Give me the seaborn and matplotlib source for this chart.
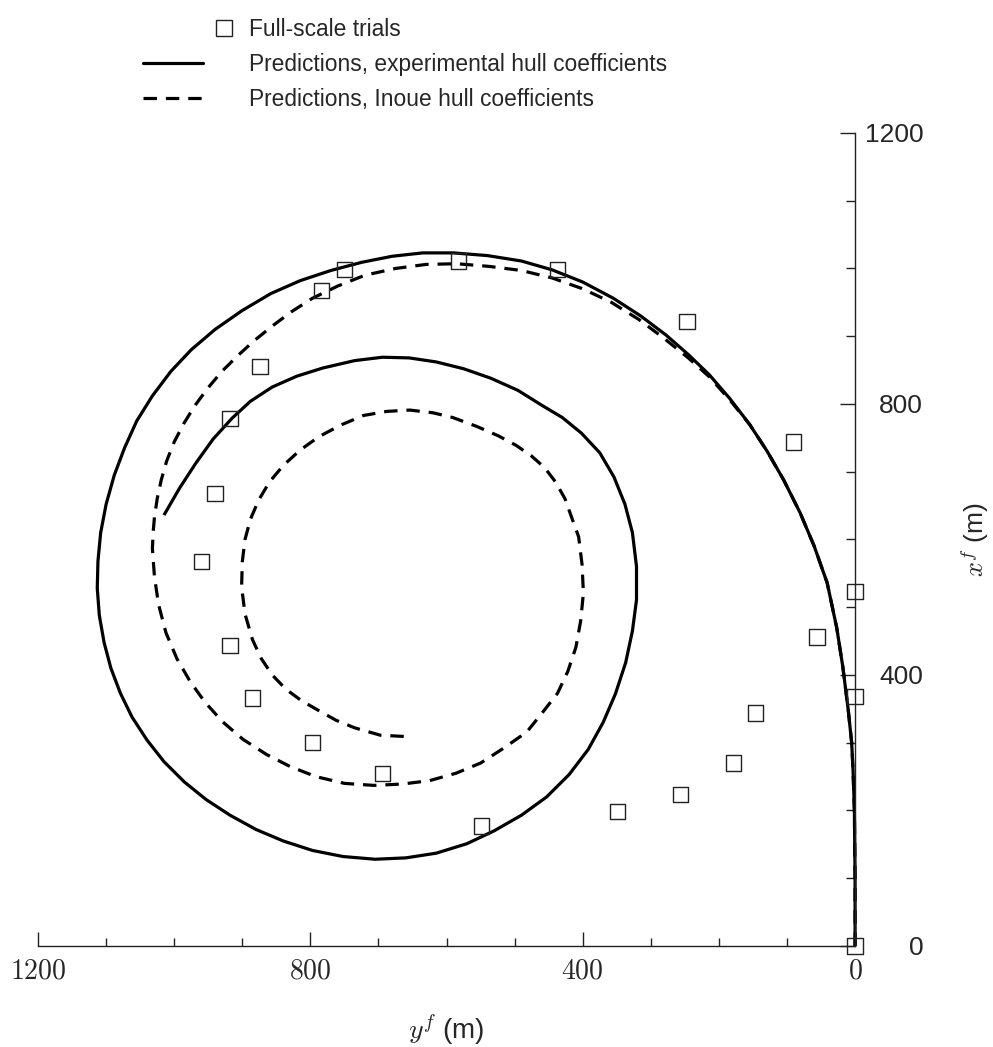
import numpy as np
import pandas as pd
import matplotlib
matplotlib.use("Agg")
import matplotlib.pyplot as plt
import seaborn as sns
from matplotlib.ticker import MultipleLocator, FuncFormatter
from matplotlib.legend_handler import HandlerLine2D
from matplotlib.lines import Line2D

# ---------------- data (yf, xf in metres) ----------------
trial_y = [0, 0, 0, 56, 90, 146, 179, 247, 256, 349, 437, 549, 582, 694, 750,
           784, 797, 874, 885, 918, 918, 940, 960]
trial_x = [0, 368, 523, 456, 744, 344, 270, 922, 223, 199, 999, 177, 1011, 255,
           999, 967, 300, 855, 366, 779, 444, 668, 567]

exp_y = [0, 0, 1, 3, 5, 10, 18, 27, 41, 60, 81, 105, 129, 155, 184, 214, 245,
         278, 315, 355, 400, 445, 490, 540, 590, 635, 680, 725, 770, 815, 858,
         900, 940, 975, 1005, 1032, 1055, 1073, 1088, 1100, 1108, 1112, 1113,
         1110, 1103, 1093, 1079, 1062, 1040, 1015, 985, 953, 918, 880, 840, 797,
         752, 705, 660, 615, 570, 530, 490, 453, 420, 392, 370, 352, 337, 327,
         321, 321, 327, 338, 354, 375, 402, 430, 460, 495, 535, 575, 615, 655,
         694, 735, 782, 820, 856, 888, 915, 943, 968, 992, 1015]
exp_x = [0, 100, 200, 260, 300, 348, 412, 470, 536, 590, 640, 688, 730, 770,
         808, 843, 873, 902, 930, 956, 980, 998, 1011, 1019, 1023, 1023, 1018,
         1009, 997, 982, 963, 938, 910, 880, 848, 812, 775, 735, 695, 652, 610,
         568, 528, 488, 448, 410, 373, 338, 304, 272, 242, 216, 193, 172, 155,
         141, 132, 128, 130, 137, 151, 170, 193, 220, 253, 290, 330, 372, 418,
         465, 511, 560, 610, 652, 692, 728, 757, 780, 798, 820, 838, 852, 862,
         868, 869, 864, 853, 841, 825, 804, 779, 748, 713, 676, 636]

inoue_y = [0, 0, 1, 3, 5, 10, 18, 27, 41, 60, 81, 105, 129, 155, 184, 214, 245,
           282, 318, 358, 400, 445, 490, 537, 585, 630, 675, 720, 760, 797, 828,
           856, 883, 907, 930, 951, 970, 986, 1000, 1011, 1019, 1025, 1029, 1031,
           1032, 1029, 1023, 1012, 996, 977, 955, 929, 899, 865, 830, 792, 750,
           707, 665, 625, 586, 550, 516, 482, 458, 437, 422, 410, 403, 399, 401,
           406, 415, 426, 440, 456, 475, 498, 524, 556, 591, 620, 654, 688, 722,
           755, 787, 815, 840, 860, 876, 888, 896, 900, 901, 896, 885, 872, 856,
           836, 813, 787, 762, 735, 697, 657]
inoue_x = [0, 100, 200, 260, 300, 348, 412, 470, 536, 590, 640, 688, 730, 770,
           806, 840, 868, 898, 925, 950, 970, 986, 997, 1003, 1007, 1006, 1000,
           990, 974, 956, 936, 915, 893, 871, 848, 823, 797, 771, 744, 716, 688,
           660, 633, 610, 586, 545, 504, 462, 424, 391, 360, 331, 305, 283, 265,
           250, 240, 237, 239, 244, 255, 270, 292, 316, 346, 373, 405, 441, 480,
           521, 563, 604, 629, 660, 685, 706, 723, 739, 753, 767, 780, 787, 791,
           789, 783, 769, 752, 732, 709, 685, 658, 630, 600, 567, 530, 490, 452,
           424, 400, 379, 362, 347, 333, 322, 311, 309]

x_ticks = [0, 400, 800, 1200]
y_ticks = [0, 400, 800, 1200]
labels = ["Full-scale trials",
          "Predictions, experimental hull coefficients",
          "Predictions, Inoue hull coefficients"]

# ---------------- style ----------------
sns.set_style("white")
plt.rcParams["font.family"] = ["Liberation Sans", "DejaVu Sans"]
plt.rcParams["mathtext.fontset"] = "cm"

fig = plt.figure(figsize=(9.93, 10.47), dpi=100)
ax = fig.add_axes([0.0383, 0.0965, 0.8228, 0.7765])

lw = 2.3
dash = (0, (4.2, 2.8))
sns.lineplot(x=exp_y, y=exp_x, sort=False, estimator=None, color="black",
             linewidth=lw, ax=ax, clip_on=False, legend=False,
             solid_joinstyle="round", solid_capstyle="butt")
sns.lineplot(x=inoue_y, y=inoue_x, sort=False, estimator=None, color="black",
             linewidth=lw, linestyle=dash, ax=ax, clip_on=False,
             legend=False, dash_joinstyle="round")
sns.scatterplot(x=trial_y, y=trial_x, marker="s", s=120, facecolor="none",
                edgecolor="#222222", linewidth=1.0, ax=ax, clip_on=False,
                legend=False, zorder=5)

ax.set_xlim(1200, 0)
ax.set_ylim(0, 1200)
ax.set_xticks(x_ticks)
ax.set_yticks(y_ticks)
ax.xaxis.set_minor_locator(MultipleLocator(100))
ax.yaxis.set_minor_locator(MultipleLocator(100))
ax.xaxis.set_major_formatter(FuncFormatter(lambda v, p: f"${v:.0f}$"))

ax.yaxis.tick_right()
ax.yaxis.set_label_position("right")
for s in ["top", "left"]:
    ax.spines[s].set_visible(False)
for s in ["right", "bottom"]:
    ax.spines[s].set_linewidth(1.0)
    ax.spines[s].set_color("#222222")

ax.tick_params(axis="x", which="major", direction="in", length=10, width=1,
               labelsize=20, pad=9, color="#222222", bottom=True)
ax.tick_params(axis="x", which="minor", direction="in", length=6, width=1,
               color="#222222", bottom=True)
ax.tick_params(axis="y", which="major", direction="in", length=11, width=1,
               labelsize=19, pad=49, color="#222222", right=True, left=False)
ax.tick_params(axis="y", which="minor", direction="in", length=6.5, width=1,
               color="#222222", right=True, left=False)
plt.setp(ax.get_yticklabels(), ha="right")

ax.set_xlabel("$y^f$ (m)", fontsize=20)
ax.set_ylabel("$x^f$ (m)", fontsize=19, rotation=90)
ax.xaxis.set_label_coords(0.5, -0.082)
ax.yaxis.set_label_coords(1.126, 0.5)


class MarkerRight(HandlerLine2D):
    def get_xdata(self, legend, xdescent, ydescent, width, height, fontsize):
        c = -xdescent + 1.35 * width
        return np.array([c - 0.5, c + 0.5]), np.array([c])


h_trial = Line2D([], [], ls="none", marker="s", markersize=11,
                 markerfacecolor="white", markeredgecolor="#222222",
                 markeredgewidth=1.0)
h_exp = Line2D([], [], color="black", linewidth=2.3)
h_ino = Line2D([], [], color="black", linewidth=2.3, linestyle=dash)
fig.legend(handles=[h_trial, h_exp, h_ino], labels=labels, loc="upper left",
           bbox_to_anchor=(0.144, 0.983), frameon=False, fontsize=16.4,
           handlelength=2.63, handletextpad=2.02, labelspacing=0.53,
           borderpad=0, borderaxespad=0,
           handler_map={h_trial: MarkerRight()})

fig.savefig("out.png", dpi=100, facecolor="white")
